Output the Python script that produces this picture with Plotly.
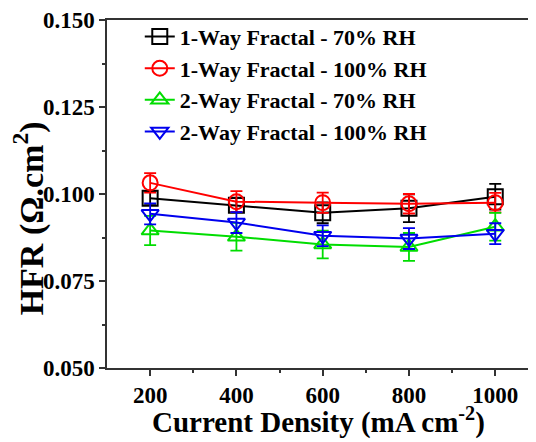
import plotly.graph_objects as go

current_density = [200, 400, 600, 800, 1000]
names = ["1-Way Fractal - 70% RH", "1-Way Fractal - 100% RH",
         "2-Way Fractal - 70% RH", "2-Way Fractal - 100% RH"]
hfr_1way_70 = [0.0988, 0.0968, 0.0946, 0.0959, 0.0992]
err_1way_70 = [0.0020, 0.0020, 0.0030, 0.0040, 0.0037]
hfr_1way_100 = [0.1032, 0.0978, 0.0975, 0.0972, 0.0975]
err_1way_100 = [0.0028, 0.0030, 0.0029, 0.0028, 0.0028]
hfr_2way_70 = [0.0895, 0.0877, 0.0855, 0.0848, 0.0906]
err_2way_70 = [0.0042, 0.0040, 0.0040, 0.0040, 0.0040]
hfr_2way_100 = [0.0943, 0.0918, 0.0880, 0.0872, 0.0886]
err_2way_100 = [0.0030, 0.0030, 0.0030, 0.0030, 0.0030]
y_title = "HFR (Ω.cm<sup>2</sup>)"
x_title = "Current Density (mA cm<sup>-2</sup>)"

series = [
    (hfr_1way_70, err_1way_70, "#000000", "square-open"),
    (hfr_1way_100, err_1way_100, "#ff0000", "circle-open"),
    (hfr_2way_70, err_2way_70, "#00dd00", "triangle-up-open"),
    (hfr_2way_100, err_2way_100, "#0000ee", "triangle-down-open"),
]

font_family = "Liberation Serif"

fig = go.Figure()
for name, (y, e, c, sym) in zip(names, series):
    fig.add_trace(go.Scatter(
        x=current_density, y=y, name=name, mode="lines+markers",
        line=dict(color=c, width=2),
        marker=dict(symbol=sym, size=15, color=c, line=dict(color=c, width=2)),
        error_y=dict(type="data", array=e, color=c, thickness=1.8, width=6),
    ))

fig.add_annotation(
    text=y_title, xref="paper", yref="paper", x=-0.18, y=0.431,
    xanchor="center", yanchor="middle", textangle=-90, showarrow=False,
    font=dict(family=font_family, size=34, color="black", weight="bold"),
)
fig.add_annotation(
    text=x_title, xref="paper", yref="paper", x=0.485, y=-0.150,
    xanchor="center", yanchor="middle", showarrow=False,
    font=dict(family=font_family, size=29, color="black", weight="bold"),
)

fig.update_layout(
    width=536, height=442,
    margin=dict(l=99, r=0, t=12, b=82, autoexpand=False),
    paper_bgcolor="white", plot_bgcolor="white",
    font=dict(family=font_family, color="black"),
    showlegend=True,
    legend=dict(x=0.075, y=1.012, xanchor="left", yanchor="top",
                font=dict(family=font_family, size=22, color="black", weight="bold"),
                bgcolor="rgba(0,0,0,0)", tracegroupgap=0, itemwidth=30),
    xaxis=dict(range=[100, 1113], tickvals=[200, 400, 600, 800, 1000], automargin=False,
               showline=True, linecolor="#333", linewidth=1.5, mirror=True,
               ticks="outside", ticklen=6, tickcolor="#333", tickwidth=1.5,
               ticklabeloverflow="allow",
               minor=dict(tickvals=[300, 500, 700, 900], ticks="outside", ticklen=3, tickcolor="#333"),
               showgrid=False, zeroline=False,
               tickfont=dict(family=font_family, size=23, color="black", weight="bold")),
    yaxis=dict(range=[0.05, 0.15], tickvals=[0.05, 0.075, 0.1, 0.125, 0.15], automargin=False,
               ticktext=["0.050", "0.075", "0.100", "0.125", "0.150"],
               showline=True, linecolor="#333", linewidth=1.5,
               ticks="outside", ticklen=6, tickcolor="#333", tickwidth=1.5,
               ticklabeloverflow="allow",
               minor=dict(tickvals=[0.0625, 0.0875, 0.1125, 0.1375], ticks="outside", ticklen=3, tickcolor="#333"),
               showgrid=False, zeroline=False,
               tickfont=dict(family=font_family, size=23, color="black", weight="bold")),
)

fig.write_html("out.html")
